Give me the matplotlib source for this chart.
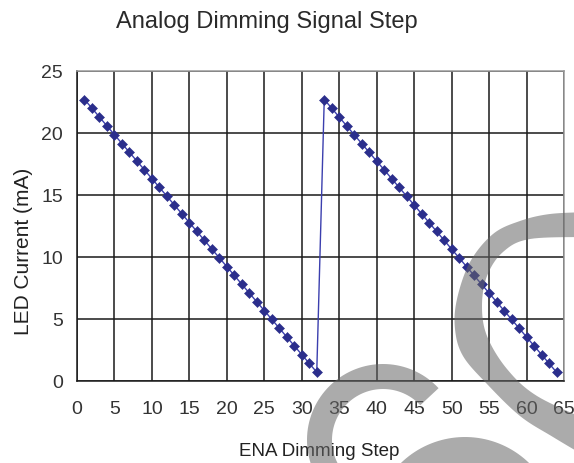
import numpy as np
import matplotlib
matplotlib.use("Agg")
import matplotlib.pyplot as plt
from matplotlib.path import Path
from matplotlib.patches import PathPatch

plt.rcParams["font.family"] = ["Liberation Sans", "DejaVu Sans"]

# =============================================================================
# Data
# =============================================================================
steps = list(range(1, 65))
led_current_ma = [
    22.70, 22.00, 21.28, 20.57, 19.86, 19.15, 18.44, 17.73,
    17.03, 16.32, 15.61, 14.90, 14.19, 13.48, 12.77, 12.06,
    11.35, 10.64, 9.93, 9.22, 8.51, 7.80, 7.09, 6.38,
    5.68, 4.97, 4.26, 3.55, 2.84, 2.13, 1.42, 0.71,
    22.70, 22.00, 21.28, 20.57, 19.86, 19.15, 18.44, 17.73,
    17.03, 16.32, 15.61, 14.90, 14.19, 13.48, 12.77, 12.06,
    11.35, 10.64, 9.93, 9.22, 8.51, 7.80, 7.09, 6.38,
    5.68, 4.97, 4.26, 3.55, 2.84, 2.13, 1.42, 0.71,
]
x_ticks = [0, 5, 10, 15, 20, 25, 30, 35, 40, 45, 50, 55, 60, 65]
y_ticks = [0, 5, 10, 15, 20, 25]

W, H = 574, 464


def px(points):
    """Pixel coords (origin top-left) -> figure fraction."""
    pts = np.asarray(points, dtype=float)
    return np.column_stack([pts[:, 0] / W, 1.0 - pts[:, 1] / H])


def catmull(points, n=12):
    pts = np.asarray(points, dtype=float)
    pts = np.vstack([pts[0], pts, pts[-1]])
    out = []
    for i in range(1, len(pts) - 2):
        p0, p1, p2, p3 = pts[i - 1], pts[i], pts[i + 1], pts[i + 2]
        for t in np.linspace(0, 1, n, endpoint=False):
            t2, t3 = t * t, t * t * t
            out.append(0.5 * ((2 * p1) + (-p0 + p2) * t
                              + (2 * p0 - 5 * p1 + 4 * p2 - p3) * t2
                              + (-p0 + 3 * p1 - 3 * p2 + p3) * t3))
    out.append(pts[-2])
    return np.array(out)


def ring(cx, cy, r_out, r_in, a0, a1):
    th = np.radians(np.linspace(a0, a1, 80))
    outer = np.column_stack([cx + r_out * np.cos(th), cy - r_out * np.sin(th)])
    inner = np.column_stack([cx + r_in * np.cos(th[::-1]), cy - r_in * np.sin(th[::-1])])
    return np.vstack([outer, inner])


def add_shape(fig, pts):
    verts = px(pts)
    verts = np.vstack([verts, verts[:1]])
    codes = [Path.MOVETO] + [Path.LINETO] * (len(verts) - 2) + [Path.CLOSEPOLY]
    patch = PathPatch(Path(verts, codes), facecolor="#666666", edgecolor="none",
                      alpha=0.55, transform=fig.transFigure, zorder=10)
    fig.add_artist(patch)


# =============================================================================
# Plot
# =============================================================================
fig = plt.figure(figsize=(W / 100, H / 100), dpi=100)
ax = fig.add_axes([77 / W, 82 / H, 487 / W, 310 / H])

ax.plot(steps, led_current_ma, color="#3B3FAE", linewidth=1.0, zorder=3,
        marker="D", markersize=4.6, markerfacecolor="#2B2E8C",
        markeredgecolor="#2B2E8C", markeredgewidth=0.4)

ax.set_xlim(0, 65)
ax.set_ylim(0, 25)
ax.set_xticks(x_ticks)
ax.set_yticks(y_ticks)
ax.tick_params(axis="both", length=0, labelsize=14, labelcolor="#333333")
ax.tick_params(axis="x", pad=14)
ax.tick_params(axis="y", pad=10)

ax.grid(True, color="#1a1a1a", linewidth=1.1, zorder=1)
ax.set_axisbelow(True)

for side in ["left", "bottom"]:
    ax.spines[side].set_color("#1a1a1a")
    ax.spines[side].set_linewidth(1.1)
for side in ["top", "right"]:
    ax.spines[side].set_color("#9a9a9a")
    ax.spines[side].set_linewidth(1.1)

ax.set_xlabel("ENA Dimming Step", fontsize=13.5, color="#222222")
ax.xaxis.set_label_coords(0.497, -0.198)
ax.set_ylabel("LED Current (mA)", fontsize=15, color="#222222")
ax.yaxis.set_label_coords(-0.09, 0.42)

fig.text(267 / W, 1 - 28 / H, "Analog Dimming Signal Step", fontsize=17,
         color="#2a2a2a", ha="center", va="baseline")

# watermark strokes over the chart
outer_c = [(590, 213), (550, 215), (520, 222), (493, 235), (470, 263), (457, 300),
           (455, 330), (463, 357), (487, 385), (520, 417), (553, 438), (590, 460)]
inner_c = [(590, 422), (537, 397), (507, 370), (487, 337), (482, 307), (487, 277),
           (503, 253), (530, 240), (590, 238)]
add_shape(fig, np.vstack([catmull(outer_c), catmull(inner_c)]))
add_shape(fig, ring(383, 441, 76, 51, 43, 250))
add_shape(fig, ring(465, 530, 92, 30, 0, 180))

fig.savefig("out.png", dpi=100)
